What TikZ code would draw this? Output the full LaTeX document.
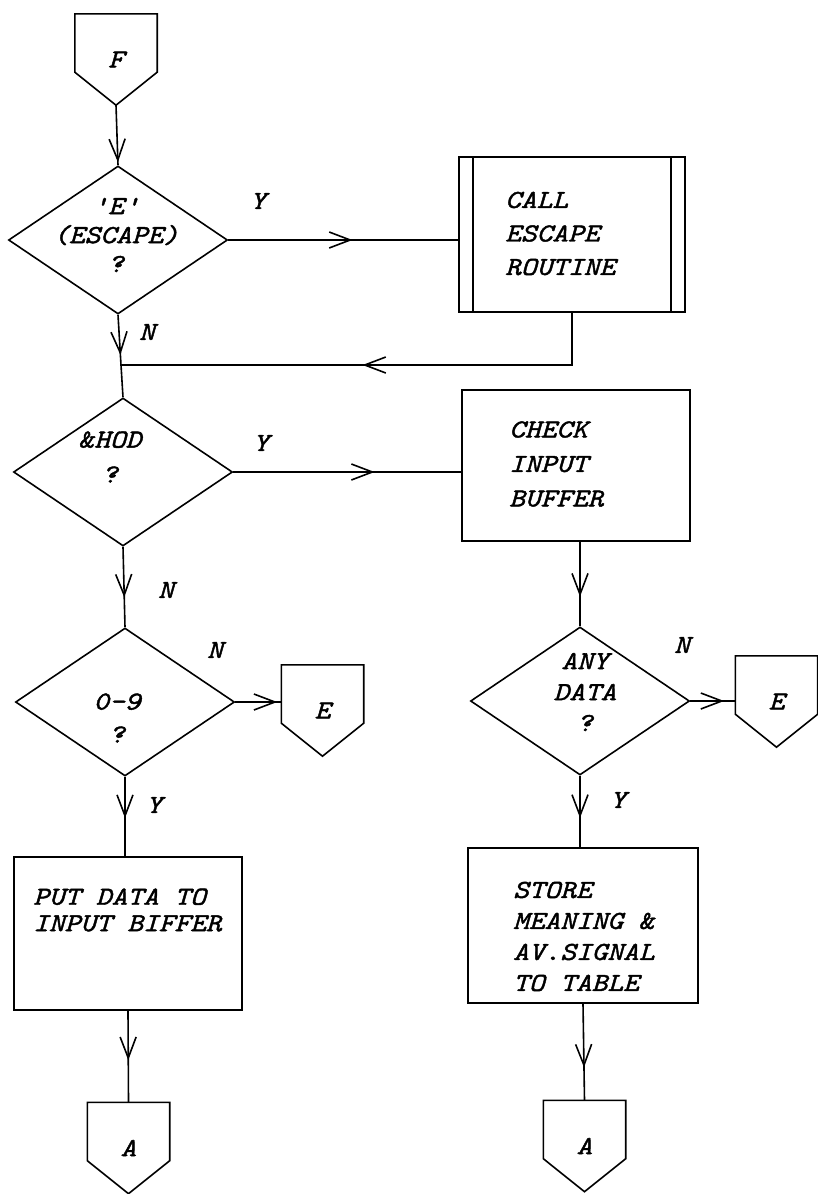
\documentclass[tikz,border=0pt]{standalone}
\usepackage{fontspec}
\newfontfamily\flowfont{lmmono10-italic.otf}[FakeStretch=1.15,FakeBold=1.6,Ligatures=TeXOff]
\newfontfamily\ampfont{lmmono10-regular.otf}[FakeStretch=1.15,FakeBold=1.6,FakeSlant=0.2]
\usetikzlibrary{shapes.geometric,arrows.meta,decorations.markings}
\newcommand\fsz[1]{\flowfont\fontsize{26}{#1}\selectfont}
\newcommand\amp{{\ampfont\&}}
\begin{document}
\begin{tikzpicture}[x=1pt,y=-1pt,
  every node/.style={font=\fsz{32}},
  dec/.style={draw,line width=1.6pt,shape=diamond,minimum width=219pt,minimum height=148pt,inner sep=0pt},
  box/.style={draw,line width=1.6pt,rectangle,inner sep=0pt},
  offpage/.style={minimum width=82pt,minimum height=91pt,inner sep=0pt,
    append after command={\pgfextra{\draw[line width=1.6pt,line join=miter]
      (\tikzlastnode.north west) -- (\tikzlastnode.north east)
      -- ([yshift=33pt]\tikzlastnode.south east) -- (\tikzlastnode.south)
      -- ([yshift=33pt]\tikzlastnode.south west) -- cycle;}}},
  txt/.style={inner sep=0pt,align=left,anchor=west},
  dtxt/.style={inner sep=0pt,align=center},
  yn/.style={inner sep=0pt},
  flow/.style={line width=1.6pt,postaction={decorate},
    decoration={markings,mark=at position #1 with {\arrow{Straight Barb[length=21pt,width=16pt]}}}},
]
\useasboundingbox (0,0) rectangle (818,1194);

% off-page connectors
\node[offpage] (F) at (116,59.5) {F};
\node[offpage] (E1) at (322.5,710.5) {E};
\node[offpage] (E2) at (776.5,701.5) {E};
\node[offpage] (A1) at (128.5,1148) {A};
\node[offpage] (A2) at (584.5,1146) {A};

% decisions
\node[dec] (d1) at (118,240) {};
\node[dec] (d2) at (123,472) {};
\node[dec] (d3) at (125,702) {};
\node[dec] (d4) at (580,701) {};
\node[dtxt,font=\fsz{29}] (t1) at (116,235) {'E'\\(ESCAPE)\\?};
\node[dtxt,font=\fsz{35}] (t2) at (110,457) {\amp HOD\\?};
\node[dtxt,font=\fsz{33}] (t3) at (117,718) {0-9\\?};
\node[dtxt,font=\fsz{31}] (t4) at (585,692) {ANY\\DATA\\?};

% process boxes
\node[box,minimum width=226pt,minimum height=155pt] (call) at (572,234.5) {};
\draw[line width=1.6pt] ([xshift=15pt]call.north west) -- ([xshift=15pt]call.south west);
\draw[line width=1.6pt] ([xshift=-15pt]call.north east) -- ([xshift=-15pt]call.south east);
\node[txt,font=\fsz{33.5}] (tcall) at (505,233.5) {CALL\\ESCAPE\\ROUTINE};
\node[box,minimum width=228pt,minimum height=151pt] (chk) at (576,465.5) {};
\node[txt,font=\fsz{34.5}] (tchk) at (509,464) {CHECK\\INPUT\\BUFFER};
\node[box,minimum width=228pt,minimum height=153pt] (put) at (128,933.5) {};
\node[txt,font=\fsz{26.5}] (tput) at (33,910) {PUT DATA TO\\INPUT BIFFER};
\node[box,minimum width=230pt,minimum height=155pt] (sto) at (583,925.5) {};
\node[txt,font=\fsz{31}] (tsto) at (513,936.5) {STORE\\MEANING \amp\\AV.SIGNAL\\TO TABLE};

% branch labels
\node[yn] (y1) at (258,201) {Y};
\node[yn] (n1) at (147,332) {N};
\node[yn] (y2) at (261,443) {Y};
\node[yn] (n2) at (166,590) {N};
\node[yn] (n3) at (215,650) {N};
\node[yn] (n4) at (682,645) {N};
\node[yn] (y3) at (154,805) {Y};
\node[yn] (y4) at (618,800) {Y};

% connectors
\coordinate (m) at (121,365);
\draw[flow=0.95] (F.south) -- (d1.north);
\draw[flow=0.54] (d1.east) -- (d1.east -| call.west);
\draw[flow=0.52] (call.south) -- (call.south |- m) -- (m);
\draw[flow=0.8] (d1.south) -- (m);
\draw[line width=1.6pt] (m) -- (d2.north);
\draw[flow=0.62] (d2.east) -- (d2.east -| chk.west);
\draw[flow=0.63] (d2.south) -- (d3.north);
\draw[flow=0.65] (chk.south -| d4.north) -- (d4.north);
\draw[flow=0.91] (d3.east) -- (d3.east -| E1.west);
\draw[flow=0.75] (d4.east) -- (d4.east -| E2.west);
\draw[flow=0.52] (d3.south) -- (d3.south |- put.north);
\draw[flow=0.59] (d4.south) -- (d4.south |- sto.north);
\draw[flow=0.54] (put.south) -- (A1.north);
\draw[flow=0.66] (sto.south) -- (A2.north);
\end{tikzpicture}
\end{document}
